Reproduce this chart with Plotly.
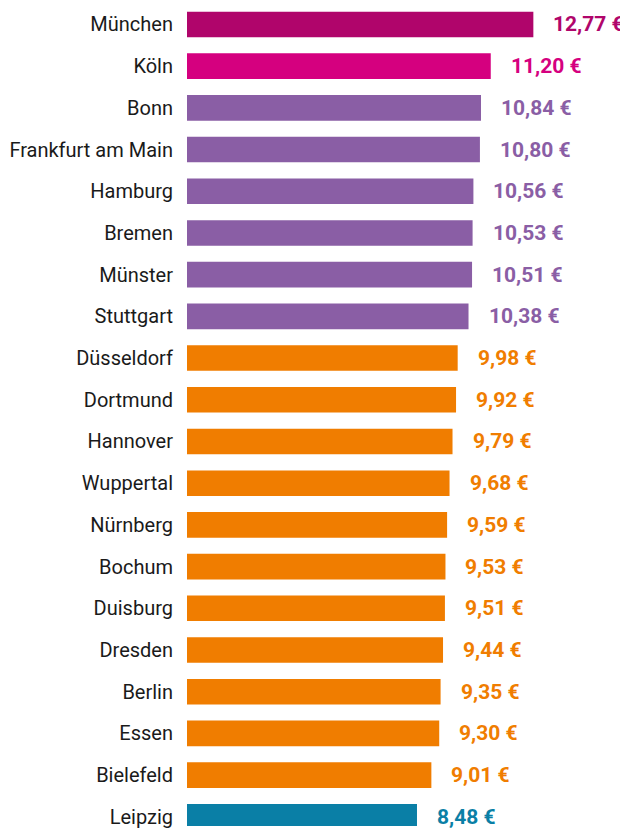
import plotly.graph_objects as go

cities = ["München", "Köln", "Bonn", "Frankfurt am Main", "Hamburg", "Bremen", "Münster",
          "Stuttgart", "Düsseldorf", "Dortmund", "Hannover", "Wuppertal", "Nürnberg",
          "Bochum", "Duisburg", "Dresden", "Berlin", "Essen", "Bielefeld", "Leipzig"]
values = [12.77, 11.20, 10.84, 10.80, 10.56, 10.53, 10.51, 10.38, 9.98, 9.92, 9.79,
          9.68, 9.59, 9.53, 9.51, 9.44, 9.35, 9.30, 9.01, 8.48]
groups = ["top1", "top2"] + ["purple"] * 6 + ["orange"] * 11 + ["blue"]
palette = {"top1": "#B0056B", "top2": "#D5007F", "purple": "#8A5EA5",
           "orange": "#F07D00", "blue": "#0A7FA6"}

colors = [palette[g] for g in groups]
labels = [f"{v:.2f}".replace(".", ",") + " €" for v in values]

fig = go.Figure(go.Bar(
    x=values, y=cities, orientation="h",
    marker=dict(color=colors, line=dict(width=0)),
    width=0.614, hoverinfo="skip",
))

for c, v, t, col in zip(cities, values, labels, colors):
    fig.add_annotation(x=v, y=c, text=f"<b>{t}</b>", xanchor="left", yanchor="middle",
                       xshift=18, yshift=0, showarrow=False,
                       font=dict(family="Roboto, sans-serif", size=21, color=col))

fig.update_layout(
    width=620, height=821,
    margin=dict(l=179, r=0, t=0, b=0, pad=0),
    paper_bgcolor="white", plot_bgcolor="white",
    showlegend=False,
    xaxis=dict(range=[0, 16.26], visible=False, fixedrange=True),
    yaxis=dict(range=[19.22, -0.394], autorange=False, categoryorder="array",
               categoryarray=cities, showgrid=False, zeroline=False, showline=False,
               ticks="", ticklabelstandoff=13,
               tickfont=dict(family="Roboto, sans-serif", size=20, color="#1a1a1a")),
)

fig.write_html("out.html")
